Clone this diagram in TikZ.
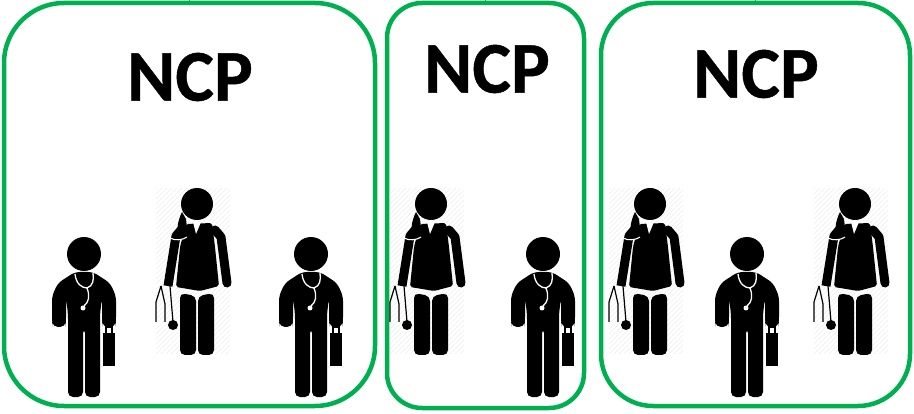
\documentclass[tikz,border=0pt]{standalone}
\usepackage{fontspec}
\setmainfont{Carlito}[BoldFeatures={FakeBold=0.6}]
\usepackage{xcolor}
\definecolor{boxgreen}{HTML}{00B050}

\tikzset{
    doctorman/.pic={
        % testa
        \fill (0,0) circle (17);
        % corpo e braccia
        \fill[rounded corners=5pt] (-16,143) -- (-16,60) -- (-18,44) -- (-18,68) -- (-19,73) -- (-31,73) -- (-32,68) -- (-32,42) -- (-26,29) -- (-9,18) -- (9,18) -- (26,29) -- (32,42) -- (32,68) -- (31,73) -- (19,73) -- (18,68) -- (18,44) -- (16,60) -- (16,143) -- (1,143) -- (1,74) -- (-1,74) -- (-1,143) -- cycle;
        % valigetta
        \fill (19,79) rectangle (31,112);
        \draw[line width=1.6pt] (22,79) -- (22,73) -- (28,73) -- (28,79);
        % stetoscopio
        \draw[white, line width=1.3pt] (-9,20) .. controls (-8,30) and (-2,34) .. (3,34) .. controls (9,32) and (10,26) .. (9,19);
        \draw[white, line width=1.3pt] (3,34) .. controls (6,42) and (5,48) .. (0,52);
        \fill[white] (-1,54) circle (2.5);
    },
    doctorwoman/.pic={
        % sfondo tratteggiato
        \begin{scope}
            \clip (-41,-15) rectangle (33,150);
            \foreach \k in {-15,-10,...,230} {
                \draw[black!7, line width=0.5pt] (-41,\k) -- (33,\k-74);
            }
        \end{scope}
        % testa e capelli
        \fill (0,0) circle (16);
        \fill (-15,8) .. controls (-20,18) and (-21,28) .. (-17,36) -- (-9,33) -- (-11,15) -- cycle;
        % giacca
        \fill[rounded corners=2pt] (-11,20) -- (15,19) -- (18,43) -- (22,82) -- (3,87) -- (-21,83) -- (-17,43) -- cycle;
        % braccia
        \draw[line width=9pt, line cap=round, line join=round] (18,26) -- (24,33) -- (30,79);
        \draw[line width=9pt, line cap=butt, line join=round] (-16,26) -- (-21,32) -- (-29,82);
        % gambe
        \fill[rounded corners=5pt] (-17,89) -- (-1,92) -- (-1,151) -- (-17,151) -- cycle;
        \fill[rounded corners=5pt] (1,92) -- (17,89) -- (17,151) -- (1,151) -- cycle;
        % colletto e stetoscopio
        \fill[white] (-4,18) -- (-1,30) -- (4,18) -- cycle;
        \draw[white, line width=1.1pt] (-27,34) .. controls (-22,37) and (-14,36) .. (-10,33);
        \draw[line width=1.2pt] (-36,82) -- (-41,98) -- (-41,118);
        \draw[line width=1.2pt] (-36,82) -- (-32,100) -- (-32,118);
        \draw[line width=1.2pt] (-27,82) -- (-24,118);
        \fill (-24,121) circle (5);
    }
}

\begin{document}
\begin{tikzpicture}[
    x=1pt, y=-1pt,
    box/.style={draw=boxgreen, line width=4.5pt, minimum height=403pt, inner sep=0pt},
    title/.style={font=\bfseries\fontsize{73}{73}\selectfont, inner sep=0pt},
    wire/.style={draw=boxgreen!60!gray, line width=0.6pt}
]
\useasboundingbox (0,0) rectangle (914,414);

% Riquadri
\node[box, minimum width=371pt, rounded corners=60pt] (box1) at (189.5,204.5) {};
\node[box, minimum width=197pt, minimum height=405pt, rounded corners=35pt] (box2) at (485.5,205.5) {};
\node[box, minimum width=309pt, rounded corners=52pt] (box3) at (755.5,204.5) {};

% Titoli
\node[title] (ncp1) at (190,77) {NCP};
\node[title] (ncp2) at (487,69) {NCP};
\node[title] (ncp3) at (756,74) {NCP};

% Tacche in alto
\coordinate (top1) at (box1.north |- 0,0);
\coordinate (top2) at (box2.north |- 0,0);
\coordinate (top3) at (box3.north |- 0,0);
\draw[wire] (top1) -- (box1.north);
\draw[wire] (top2) -- (box2.north);
\draw[wire] (top3) -- (box3.north);

% Persone
\pic (man1) at (84,254) {doctorman};
\pic (woman1) at (197,204) {doctorwoman};
\pic (man2) at (311,254) {doctorman};

\pic (woman2) at (431,204) {doctorwoman};
\pic (man3) at (543,254) {doctorman};

\pic (woman3) at (650,204) {doctorwoman};
\pic (man4) at (747,254) {doctorman};
\pic (woman4) at (855,204) {doctorwoman};

\end{tikzpicture}
\end{document}
